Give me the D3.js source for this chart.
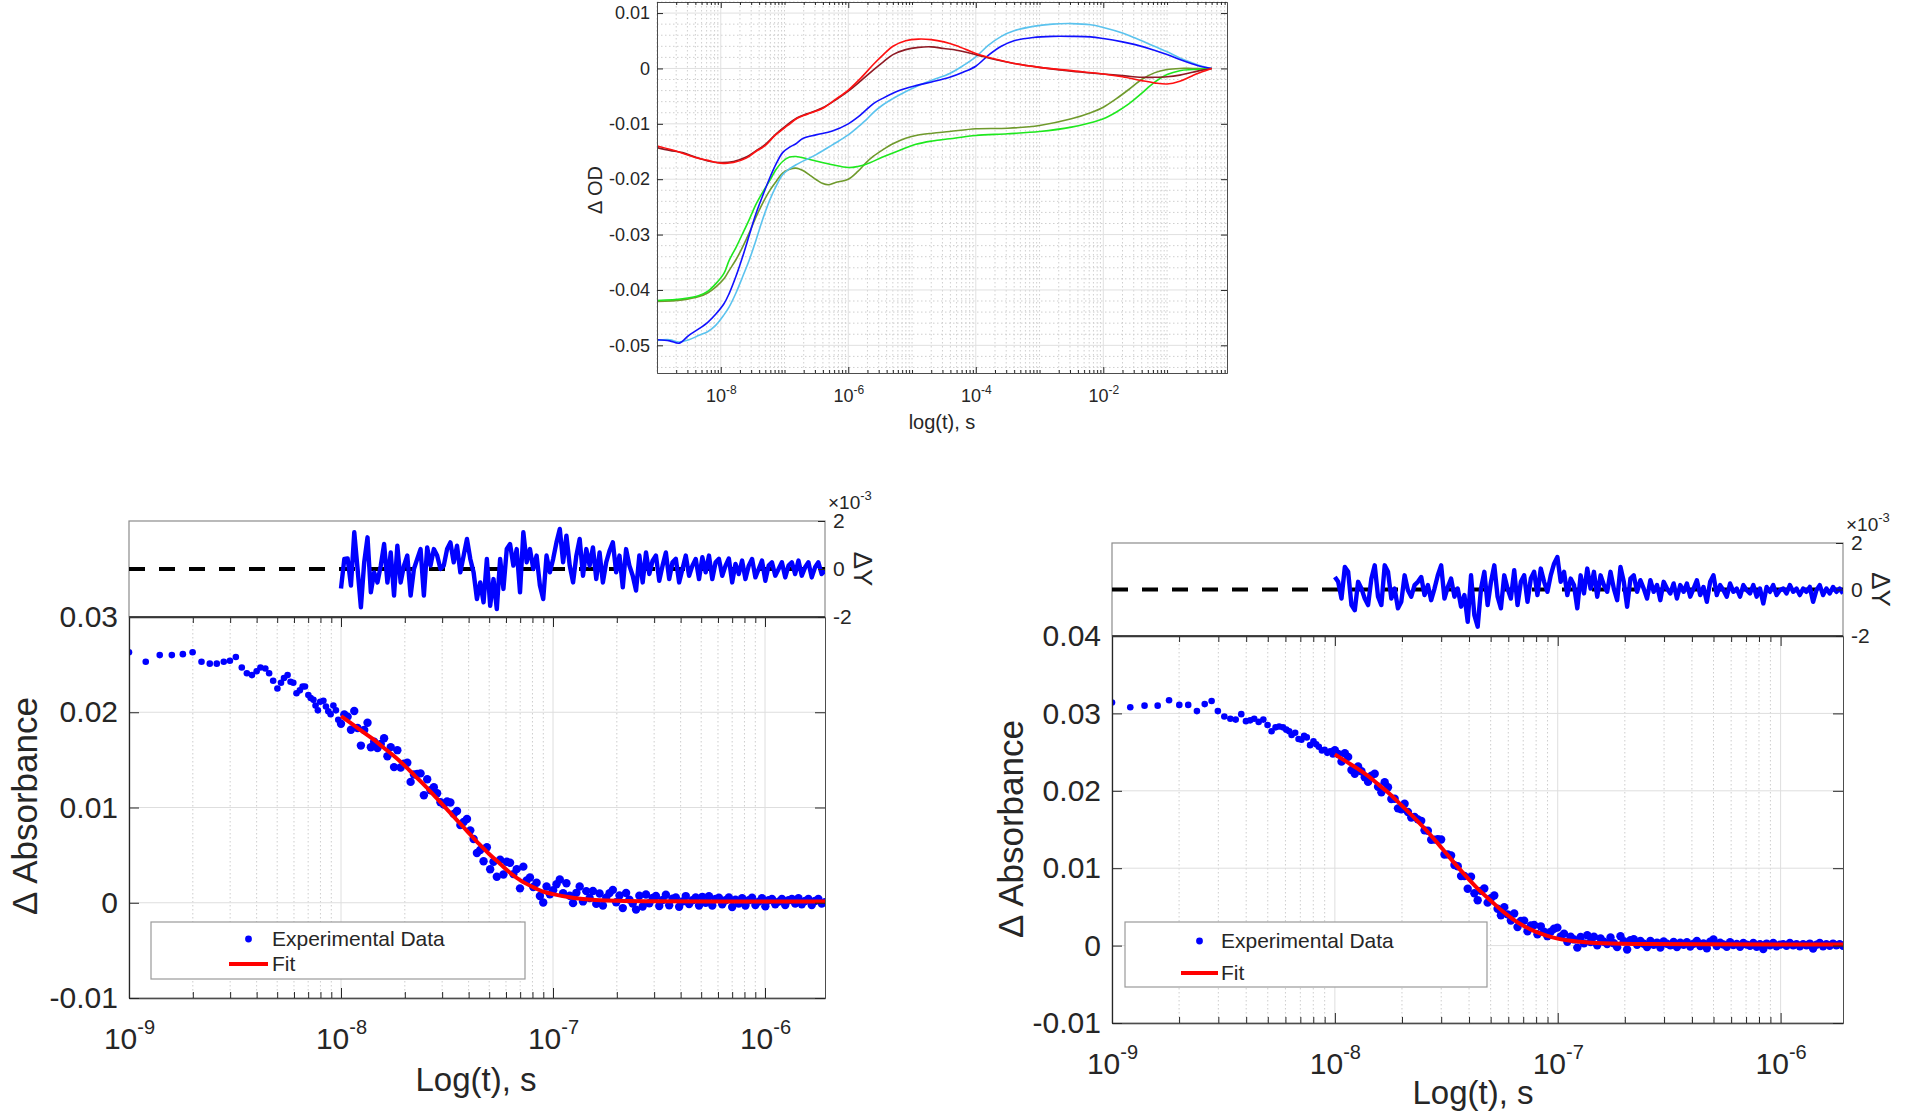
<!DOCTYPE html>
<html><head><meta charset="utf-8">
<script src="https://cdn.jsdelivr.net/npm/d3@7"></script>
<style>
body{margin:0;background:#fff}
svg{display:block}
text{font-family:"Liberation Sans",Arial,Helvetica,sans-serif}
</style>
</head><body>
<svg id="chart" width="1909" height="1113"></svg>
<script>
// ================= DATA =================
// Top panel: [log10(t), ΔOD]
const topRed = [[-9.0,-0.0140],[-8.8,-0.0146],[-8.6,-0.0153],[-8.4,-0.0161],[-8.2,-0.0166],[-8.0,-0.0171],[-7.8,-0.0170],[-7.6,-0.0162],[-7.45,-0.0150],[-7.3,-0.0139],[-7.14,-0.0120],[-6.95,-0.0103],[-6.8,-0.0090],[-6.65,-0.0083],[-6.4,-0.0072],[-6.2,-0.0056],[-6.0,-0.0039],[-5.8,-0.0017],[-5.6,0.0008],[-5.45,0.0025],[-5.3,0.0040],[-5.1,0.0050],[-4.9,0.0053],[-4.7,0.0052],[-4.5,0.0048],[-4.3,0.0041],[-4.0,0.0027],[-3.7,0.0017],[-3.4,0.0009],[-3.0,0.0002],[-2.5,-0.0004],[-2.0,-0.0010],[-1.7,-0.0015],[-1.4,-0.0022],[-1.2,-0.0026],[-1.0,-0.0028],[-0.8,-0.0023],[-0.6,-0.0013],[-0.45,-0.0006],[-0.3,0.0]];
const topDarkRed = [[-9.0,-0.0143],[-8.8,-0.0148],[-8.6,-0.0152],[-8.4,-0.0160],[-8.2,-0.0167],[-8.0,-0.0170],[-7.8,-0.0168],[-7.6,-0.0160],[-7.45,-0.0149],[-7.3,-0.0137],[-7.14,-0.0119],[-6.95,-0.0101],[-6.8,-0.0089],[-6.65,-0.0082],[-6.4,-0.0071],[-6.2,-0.0057],[-6.0,-0.0041],[-5.8,-0.0022],[-5.6,-0.0002],[-5.45,0.0012],[-5.3,0.0025],[-5.1,0.0034],[-4.9,0.0038],[-4.7,0.0039],[-4.5,0.0036],[-4.3,0.0033],[-4.0,0.0025],[-3.7,0.0016],[-3.4,0.0009],[-3.0,0.0002],[-2.5,-0.0005],[-2.0,-0.0010],[-1.7,-0.0013],[-1.4,-0.0016],[-1.2,-0.0016],[-1.0,-0.0015],[-0.8,-0.0012],[-0.6,-0.0007],[-0.45,-0.0003],[-0.3,0.0]];
const topBlue = [[-9.0,-0.0490],[-8.8,-0.0492],[-8.65,-0.0496],[-8.5,-0.0482],[-8.34,-0.0470],[-8.2,-0.0458],[-8.08,-0.0444],[-7.95,-0.0425],[-7.87,-0.0407],[-7.76,-0.0375],[-7.66,-0.0341],[-7.55,-0.0300],[-7.45,-0.0263],[-7.35,-0.0232],[-7.24,-0.0200],[-7.13,-0.0172],[-7.03,-0.0152],[-6.92,-0.0142],[-6.82,-0.0136],[-6.72,-0.0127],[-6.51,-0.0120],[-6.25,-0.0113],[-6.0,-0.0100],[-5.85,-0.0088],[-5.72,-0.0075],[-5.6,-0.0063],[-5.46,-0.0054],[-5.2,-0.0040],[-4.94,-0.0031],[-4.68,-0.0024],[-4.41,-0.0016],[-4.2,-0.0007],[-4.0,0.0004],[-3.8,0.0024],[-3.6,0.0040],[-3.4,0.0050],[-3.1,0.0056],[-2.8,0.0058],[-2.5,0.0058],[-2.2,0.0057],[-2.0,0.0054],[-1.7,0.0048],[-1.5,0.0043],[-1.2,0.0033],[-1.0,0.0025],[-0.8,0.0016],[-0.6,0.0008],[-0.45,0.0003],[-0.3,0.0]];
const topLightBlue = [[-9.0,-0.0491],[-8.8,-0.0490],[-8.65,-0.0494],[-8.5,-0.0490],[-8.34,-0.0482],[-8.2,-0.0475],[-8.08,-0.0464],[-7.95,-0.0445],[-7.87,-0.0431],[-7.76,-0.0405],[-7.66,-0.0377],[-7.55,-0.0345],[-7.45,-0.0311],[-7.35,-0.0275],[-7.24,-0.0240],[-7.13,-0.0212],[-7.03,-0.0192],[-6.92,-0.0181],[-6.82,-0.0174],[-6.65,-0.0164],[-6.51,-0.0156],[-6.25,-0.0138],[-6.0,-0.0120],[-5.85,-0.0106],[-5.72,-0.0093],[-5.6,-0.0079],[-5.46,-0.0066],[-5.2,-0.0048],[-4.94,-0.0033],[-4.68,-0.0021],[-4.41,-0.0009],[-4.2,0.0005],[-4.0,0.0021],[-3.8,0.0042],[-3.6,0.0058],[-3.4,0.0068],[-3.1,0.0076],[-2.8,0.0080],[-2.5,0.0081],[-2.2,0.0079],[-2.0,0.0074],[-1.7,0.0064],[-1.5,0.0055],[-1.2,0.0040],[-1.0,0.0030],[-0.8,0.0019],[-0.6,0.0010],[-0.45,0.0004],[-0.3,0.0]];
const topGreen = [[-9.0,-0.0419],[-8.6,-0.0416],[-8.34,-0.0410],[-8.2,-0.0402],[-8.08,-0.0389],[-7.95,-0.0370],[-7.87,-0.0347],[-7.76,-0.0323],[-7.66,-0.0299],[-7.55,-0.0272],[-7.45,-0.0246],[-7.35,-0.0225],[-7.24,-0.0204],[-7.13,-0.0182],[-7.03,-0.0168],[-6.92,-0.0160],[-6.82,-0.0159],[-6.65,-0.0163],[-6.51,-0.0167],[-6.25,-0.0174],[-6.0,-0.0179],[-5.85,-0.0177],[-5.72,-0.0173],[-5.46,-0.0160],[-5.2,-0.0148],[-4.94,-0.0137],[-4.68,-0.0131],[-4.41,-0.0127],[-4.0,-0.0121],[-3.5,-0.0118],[-3.0,-0.0114],[-2.5,-0.0106],[-2.2,-0.0098],[-2.0,-0.0091],[-1.8,-0.0079],[-1.6,-0.0064],[-1.4,-0.0045],[-1.2,-0.0025],[-1.0,-0.0011],[-0.8,-0.0004],[-0.6,-0.0002],[-0.3,0.0]];
const topOlive = [[-9.0,-0.0421],[-8.6,-0.0418],[-8.34,-0.0412],[-8.2,-0.0405],[-8.08,-0.0395],[-7.95,-0.0380],[-7.87,-0.0365],[-7.76,-0.0345],[-7.66,-0.0323],[-7.55,-0.0296],[-7.45,-0.0269],[-7.35,-0.0245],[-7.24,-0.0222],[-7.13,-0.0204],[-7.03,-0.0189],[-6.92,-0.0182],[-6.82,-0.0180],[-6.72,-0.0184],[-6.6,-0.0193],[-6.5,-0.0201],[-6.4,-0.0208],[-6.3,-0.0210],[-6.2,-0.0206],[-6.0,-0.0200],[-5.85,-0.0186],[-5.72,-0.0170],[-5.6,-0.0158],[-5.46,-0.0147],[-5.3,-0.0136],[-5.1,-0.0126],[-4.94,-0.0121],[-4.68,-0.0117],[-4.41,-0.0114],[-4.0,-0.0109],[-3.5,-0.0108],[-3.0,-0.0103],[-2.5,-0.0091],[-2.2,-0.0080],[-2.0,-0.0070],[-1.8,-0.0055],[-1.6,-0.0038],[-1.4,-0.0020],[-1.2,-0.0008],[-1.0,-0.0002],[-0.8,0.0],[-0.6,0.0],[-0.3,0.0]];
const topYTicks = [-0.05,-0.04,-0.03,-0.02,-0.01,0,0.01];
const topXTicks = [1e-8,1e-6,1e-4,1e-2];

// Bottom-left panel
const leftEarly = [[-9.0,0.0263],[-8.921,0.0253],[-8.855,0.0260],[-8.798,0.0260],[-8.746,0.0261],[-8.70,0.0263],[-8.658,0.0253],[-8.619,0.0251],[-8.586,0.0251],[-8.553,0.0253],[-8.524,0.0254],[-8.496,0.0258],[-8.468,0.0247],[-8.444,0.0241],[-8.42,0.0239],[-8.398,0.0243],[-8.38,0.0247],[-8.357,0.0246],[-8.339,0.0241],[-8.32,0.0233],[-8.30,0.0225],[-8.283,0.0231],[-8.269,0.0236],[-8.252,0.0239],[-8.238,0.0232],[-8.225,0.0231],[-8.21,0.0220],[-8.194,0.0223],[-8.181,0.0227],[-8.17,0.0227],[-8.154,0.0218],[-8.143,0.0215],[-8.13,0.0213],[-8.12,0.0207],[-8.109,0.0202],[-8.098,0.0211],[-8.083,0.0212],[-8.071,0.0206],[-8.06,0.0201],[-8.049,0.0198],[-8.036,0.0207],[-8.024,0.0202],[-8.013,0.0192]];
// dense samples, evenly spaced in log10(t) from -8 to -5.717
const leftDense = [0.01879,0.01976,0.01954,0.01816,0.02013,0.01835,0.0165,0.01813,0.0189,0.01633,
0.01691,0.01624,0.01666,0.01728,0.01538,0.01634,0.01424,0.01602,0.0142,0.0146,
0.0147,0.01269,0.01346,0.01352,0.01358,0.01129,0.01296,0.01181,0.01213,0.01149,
0.01055,0.01032,0.01063,0.01053,0.00933,0.00964,0.00815,0.00848,0.00879,0.0076,
0.00669,0.00522,0.00554,0.00435,0.00582,0.00351,0.0043,0.00273,0.00452,0.00297,
0.00431,0.0042,0.00301,0.00353,0.00151,0.00379,0.00233,0.00266,0.00166,0.0021,
0.00071,0.00003,0.00171,0.00088,0.00132,0.00195,0.00244,0.00099,0.00204,0.00073,
-0.00004,0.00104,0.0017,0.00014,0.00122,0.0005,0.00123,-0.00012,0.00097,-0.00029,
0.00054,0.00101,0.00135,0.00006,0.00076,-0.00056,0.00103,0.00033,-0.00009,-0.00072,
0.00074,-0.00039,0.00086,-0.00005,0.00051,0.00071,-0.00034,0.00029,0.00084,-0.00027,
0.00042,0.00056,-0.00042,0.00014,0.0007,-0.00014,0.00027,0.00055,-0.00029,0.00062,
-0.00001,0.00069,-0.00029,0.00041,0.00054,-0.00016,0.00026,0.00056,-0.00044,0.00033,
-0.00009,0.00047,-0.0003,0.00026,0.00054,-0.00023,0.00012,0.00047,-0.00037,0.00026,
0.0004,-0.00016,0.00012,0.0004,-0.00023,0.00026,0.0004,-0.00009,0.00047,-0.00016,
0.00019,0.0004,-0.00023,0.00019,0.0004,-0.00009,0.00005];
// residuals (x10^-3), same time grid as leftDense
const leftResid = [-0.81,0.42,0.44,-0.69,1.53,0,-1.6,0.28,1.32,-0.97,
-0.14,-0.56,0.14,1.04,-0.56,0.69,-1.11,0.97,-0.56,0.14,
0.56,-1.11,0,0.42,0.83,-1.11,0.9,0.14,0.83,0.56,
0,0.14,0.83,1.11,0.28,0.97,-0.14,0.56,1.25,0.42,
-0.14,-1.25,-0.56,-1.39,0.42,-1.53,-0.42,-1.67,0.42,-0.83,
0.83,1.04,0.14,0.83,-0.97,1.53,0.28,0.83,0,0.56,
-0.69,-1.25,0.56,-0.14,0.42,1.11,1.67,0.28,1.39,0.14,
-0.56,0.56,1.25,-0.28,0.83,
0.14,0.9,-0.42,0.69,-0.56,0.28,0.76,1.11,-0.14,0.56,
-0.76,0.83,0.14,-0.28,-0.9,0.56,-0.56,0.69,-0.21,0.35,
0.56,-0.49,0.14,0.69,-0.42,0.28,0.42,-0.56,0,0.56,
-0.28,0.14,0.42,-0.42,0.49,-0.14,0.56,-0.42,0.28,0.42,
-0.28,0.14,0.44,-0.56,0.21,-0.21,0.35,-0.42,0.14,0.42,
-0.35,0,0.35,-0.49,0.14,0.28,-0.28,0,0.28,-0.35,
0.14,0.28,-0.21,0.35,-0.28,0.07,0.28,-0.35,0.07,0.28,
-0.21,-0.07];
const leftFit = [[-8.0,0.0196],[-7.95,0.0188],[-7.9,0.0180],[-7.85,0.0172],[-7.8,0.0163],[-7.75,0.0154],[-7.7,0.0144],[-7.65,0.0133],[-7.6,0.0122],[-7.55,0.0110],[-7.5,0.0098],[-7.45,0.0086],[-7.4,0.0074],[-7.35,0.0062],[-7.3,0.0051],[-7.25,0.0041],[-7.2,0.0031],[-7.15,0.0023],[-7.1,0.0017],[-7.05,0.0012],[-7.0,0.0009],[-6.9,0.0005],[-6.8,0.0003],[-6.7,0.0002],[-6.5,0.00015],[-6.0,0.00012],[-5.717,0.00012]];
const leftYTicks = [-0.01,0,0.01,0.02,0.03];

// Bottom-right panel
const rightEarly = [[-9.0,0.0314],[-8.918,0.0308],[-8.854,0.0310],[-8.795,0.0310],[-8.744,0.0317],[-8.698,0.0311],[-8.658,0.0311],[-8.619,0.0303],[-8.584,0.0312],[-8.553,0.0316],[-8.525,0.0303],[-8.496,0.0296],[-8.469,0.0293],[-8.445,0.0292],[-8.42,0.0299],[-8.399,0.0290],[-8.38,0.0291],[-8.362,0.0293],[-8.342,0.0289],[-8.321,0.0292],[-8.302,0.0285],[-8.284,0.0277],[-8.266,0.0282],[-8.25,0.0283],[-8.233,0.0282],[-8.218,0.0279],[-8.205,0.0277],[-8.194,0.0272],[-8.178,0.0275],[-8.163,0.0267],[-8.15,0.0266],[-8.138,0.0271],[-8.126,0.0269],[-8.111,0.0259],[-8.096,0.0264],[-8.084,0.0260],[-8.072,0.0257],[-8.058,0.0252],[-8.046,0.0253],[-8.034,0.0249],[-8.021,0.0251],[-8.009,0.0247]];
// dense samples, evenly spaced in log10(t) from -8 to -5.72
const rightDense = [0.02524,0.02476,0.02377,0.02486,0.02438,0.02268,0.02221,0.02314,0.02252,0.02176,
0.02115,0.02196,0.0222,0.02052,0.0198,0.02112,0.02047,0.01893,0.01897,0.01773,
0.01762,0.01833,0.01726,0.01654,0.01661,0.01631,0.01612,0.01489,0.01483,0.01368,
0.01369,0.01376,0.0137,0.01177,0.01178,0.01164,0.0104,0.01026,0.00898,0.00899,
0.00734,0.0089,0.00677,0.00585,0.00707,0.00737,0.00555,0.00613,0.00648,0.00477,
0.00391,0.00497,0.00404,0.00325,0.00415,0.00241,0.00319,0.00323,0.00185,0.00261,
0.00266,0.00147,0.00249,0.00178,0.00122,0.0018,0.00217,0.00232,0.00118,0.00155,
0.00049,0.00114,0.0008,-0.00026,0.00111,0.00029,0.00134,0.00045,
0.00114,0.00004,0.00093,0.00049,0.00019,0.00104,0.00031,-0.0002,0.00122,0.00057,
-0.00051,0.00069,0.00083,0.00011,0.00061,0.00024,-0.00019,0.0006,0.0001,0.00039,
-0.00026,0.00053,0.00024,0.00003,0.00046,-0.0002,0.00038,0.00009,0.00045,-0.00012,
0.00023,0.00059,-0.00006,0.00029,-0.00035,0.00051,0.00079,-0.00007,0.00036,0.00014,
-0.00014,0.00043,0.00006,0.0002,-0.00015,0.00035,0.00013,-0.00001,0.00035,-0.00016,
0.00019,-0.00045,0.00026,0.00005,0.00034,-0.00009,0.00012,0.00019,-0.00002,0.00034,
0.00005,0.00019,-0.00009,0.00019,0.00005,0.00026,-0.00038,0.00012,0.00034,-0.00009,
0.00019,-0.00002,0.00026,0.00005,0.00019,-0.00002];
const rightResid = [0.54,0.33,-0.39,0.97,0.76,-0.67,-0.89,0.33,0.04,-0.39,
-0.67,0.47,1.04,-0.31,-0.67,1.04,0.76,-0.39,0.04,-0.81,
-0.53,0.61,-0.03,-0.31,0.19,0.33,0.54,-0.24,0.19,-0.46,
0.04,0.61,1.04,-0.39,0.11,0.47,-0.31,0.04,-0.74,-0.24,
-1.39,0.61,-1.1,-1.6,0.04,0.76,-0.67,0.33,1.04,-0.31,
-0.81,0.61,0.04,-0.39,0.83,-0.67,0.33,0.61,-0.53,0.47,
0.76,-0.24,0.9,0.33,-0.1,0.61,1.11,1.4,0.33,0.76,
-0.24,0.47,0.19,-0.81,0.61,-0.17,0.9,0.04,
0.76,-0.31,0.61,0.19,-0.1,0.76,0.04,-0.46,0.97,0.33,
-0.74,0.47,0.61,-0.1,0.4,0.04,-0.39,0.4,-0.1,0.19,
-0.46,0.33,0.04,-0.17,0.26,-0.39,0.19,-0.1,0.26,-0.31,
0.04,0.4,-0.24,0.11,-0.53,0.33,0.61,-0.24,0.19,-0.03,
-0.31,0.26,-0.1,0.04,-0.31,0.19,-0.03,-0.17,0.19,-0.31,
0.04,-0.6,0.11,-0.1,0.19,-0.24,-0.03,0.04,-0.17,0.19,
-0.1,0.04,-0.24,0.04,-0.1,0.11,-0.53,-0.03,0.19,-0.24,
0.04,-0.17,0.11,-0.1,0.04,-0.17];
const rightFit = [[-8.0,0.0247],[-7.95,0.0238],[-7.9,0.0229],[-7.85,0.0219],[-7.8,0.0207],[-7.75,0.0195],[-7.7,0.0181],[-7.65,0.0167],[-7.6,0.0152],[-7.55,0.0136],[-7.5,0.0119],[-7.45,0.0102],[-7.4,0.0086],[-7.35,0.0071],[-7.3,0.0058],[-7.25,0.0045],[-7.2,0.0034],[-7.15,0.0025],[-7.1,0.0018],[-7.05,0.0013],[-7.0,0.0009],[-6.9,0.0005],[-6.8,0.0003],[-6.6,0.0002],[-6.0,0.00015],[-5.72,0.00015]];
const rightYTicks = [-0.01,0,0.01,0.02,0.03,0.04];

const bottomXTicks = [1e-9,1e-8,1e-7,1e-6];
const residTicks = [-2,0,2];
const legendLabels = ['Experimental Data','Fit'];

// ================= DRAWING =================
const svg = d3.select('#chart');
const INK = '#262626';
const FRAME = '#4d4d4d';

function fmtNum(d){ return d === 0 ? '0' : d.toFixed(2); }
function supLabels(g, supSize, shift){
  g.selectAll('.tick text').each(function(d){
    const t = d3.select(this);
    const e = Math.round(Math.log10(d));
    t.text(null);
    t.append('tspan').text('10');
    t.append('tspan').attr('font-size', supSize).attr('dy', -shift).text(String(e));
  });
}
function logGrid(lo, hi){
  const out = [];
  for (let n = Math.floor(Math.log10(lo)); n <= Math.ceil(Math.log10(hi)); n++){
    for (let k = 1; k <= 9; k++){
      const v = k * Math.pow(10, n);
      if (v >= lo * 0.9999 && v <= hi * 1.0001) out.push({v, k, n});
    }
  }
  return out;
}
function styleAxis(g, size){
  g.attr('font-family','"Liberation Sans",Arial,Helvetica,sans-serif').attr('font-size', size).attr('color', INK);
  g.select('.domain').attr('stroke', FRAME);
}

// ---------- TOP PANEL ----------
(function(){
  const L = 657, R = 1227, T = 2, B = 373;
  const x = d3.scaleLog().domain([1e-9, Math.pow(10, -0.06)]).range([L, R]);
  const y = d3.scaleLinear().domain([-0.055, 0.012]).range([B, T]);
  const g = svg.append('g');
  const grid = logGrid(1e-9, x.domain()[1]);
  const major = grid.filter(d => d.k === 1 && d.n % 2 === 0);
  const minor = grid.filter(d => !(d.k === 1 && d.n % 2 === 0));
  g.append('g').selectAll('line').data(minor).join('line')
    .attr('x1', d => x(d.v)).attr('x2', d => x(d.v)).attr('y1', T).attr('y2', B)
    .attr('stroke', '#cfcfcf').attr('stroke-dasharray', '1.5,2.5');
  const yMinor = d3.range(-27, 7).filter(i => i % 5 !== 0).map(i => i * 0.002);
  g.append('g').selectAll('line').data(yMinor).join('line')
    .attr('x1', L).attr('x2', R).attr('y1', d => y(d)).attr('y2', d => y(d))
    .attr('stroke', '#cfcfcf').attr('stroke-dasharray', '1.5,2.5');
  g.append('g').selectAll('line').data(major).join('line')
    .attr('x1', d => x(d.v)).attr('x2', d => x(d.v)).attr('y1', T).attr('y2', B)
    .attr('stroke', '#e0e0e0');
  g.append('g').selectAll('line').data(topYTicks).join('line')
    .attr('x1', L).attr('x2', R).attr('y1', d => y(d)).attr('y2', d => y(d))
    .attr('stroke', '#e0e0e0');

  svg.append('clipPath').attr('id', 'clipTop').append('rect').attr('x', L).attr('y', T).attr('width', R - L).attr('height', B - T);
  const line = d3.line().x(d => x(Math.pow(10, d[0]))).y(d => y(d[1])).curve(d3.curveCatmullRom.alpha(0.5));
  const series = [
    [topOlive, '#6f9a2c'], [topGreen, '#1ee81e'], [topLightBlue, '#5bc3ee'],
    [topBlue, '#1010ff'], [topDarkRed, '#8e1a24'], [topRed, '#ff1010']
  ];
  const sg = g.append('g').attr('clip-path', 'url(#clipTop)');
  series.forEach(([data, col]) => {
    sg.append('path').datum(data).attr('d', line).attr('fill', 'none').attr('stroke', col).attr('stroke-width', 1.6);
  });

  const ax = g.append('g').attr('transform', `translate(0,${B})`)
    .call(d3.axisBottom(x).tickValues(topXTicks).tickSizeInner(-6).tickSizeOuter(0).tickPadding(16));
  styleAxis(ax, 18); supLabels(ax, 12, 8);
  const axm = g.append('g').attr('transform', `translate(0,${B})`)
    .call(d3.axisBottom(x).tickValues(minor.map(d => d.v)).tickSizeInner(-3).tickSizeOuter(0).tickFormat(''));
  styleAxis(axm, 10);
  const axt = g.append('g').attr('transform', `translate(0,${T})`)
    .call(d3.axisTop(x).tickValues(topXTicks).tickSizeInner(-6).tickSizeOuter(0).tickFormat(''));
  styleAxis(axt, 10);
  const axtm = g.append('g').attr('transform', `translate(0,${T})`)
    .call(d3.axisTop(x).tickValues(minor.map(d => d.v)).tickSizeInner(-3).tickSizeOuter(0).tickFormat(''));
  styleAxis(axtm, 10);
  const ay = g.append('g').attr('transform', `translate(${L},0)`)
    .call(d3.axisLeft(y).tickValues(topYTicks).tickSizeInner(-6).tickSizeOuter(0).tickPadding(7).tickFormat(fmtNum));
  styleAxis(ay, 18);
  const ayr = g.append('g').attr('transform', `translate(${R},0)`)
    .call(d3.axisRight(y).tickValues(topYTicks).tickSizeInner(-6).tickSizeOuter(0).tickFormat(''));
  styleAxis(ayr, 10);

  g.append('text').attr('x', (L + R) / 2 - 0).attr('y', 429).attr('text-anchor', 'middle')
    .attr('font-size', 20).attr('fill', INK).text('log(t), s');
  g.append('text').attr('transform', `translate(602,${190}) rotate(-90)`).attr('text-anchor', 'middle')
    .attr('font-size', 20).attr('fill', INK).text('Δ OD');
})();

// ---------- BOTTOM PANELS ----------
function drawFitPanel(cfg){
  const {x0, x1, ry0, ry1, my1, yDom, yTicks, xMaxExp, early, dense, resid, fit, id} = cfg;
  const x = d3.scaleLog().domain([1e-9, Math.pow(10, xMaxExp)]).range([x0, x1]);
  const y = d3.scaleLinear().domain(yDom).range([my1, ry1]);
  const ry = d3.scaleLinear().domain([-2, 2]).range([ry1, ry0]);
  const g = svg.append('g');
  const grid = logGrid(1e-9, x.domain()[1]);
  const major = grid.filter(d => d.k === 1);
  const minor = grid.filter(d => d.k !== 1);

  // grid
  g.append('g').selectAll('line').data(minor).join('line')
    .attr('x1', d => x(d.v)).attr('x2', d => x(d.v)).attr('y1', ry1).attr('y2', my1)
    .attr('stroke', '#cdcdcd').attr('stroke-dasharray', '1.5,2.5');
  g.append('g').selectAll('line').data(major).join('line')
    .attr('x1', d => x(d.v)).attr('x2', d => x(d.v)).attr('y1', ry1).attr('y2', my1)
    .attr('stroke', '#dedede');
  g.append('g').selectAll('line').data(yTicks).join('line')
    .attr('x1', x0).attr('x2', x1).attr('y1', d => y(d)).attr('y2', d => y(d))
    .attr('stroke', '#dedede');

  // data
  svg.append('clipPath').attr('id', 'clipM' + id).append('rect').attr('x', x0).attr('y', ry1).attr('width', x1 - x0).attr('height', my1 - ry1);
  const dg = g.append('g').attr('clip-path', `url(#clipM${id})`);
  const gridT = d3.range(dense.length).map(i => Math.pow(10, -8 + (xMaxExp + 8) * i / (dense.length - 1)));
  dg.append('g').selectAll('circle').data(early).join('circle')
    .attr('cx', d => x(Math.pow(10, d[0]))).attr('cy', d => y(d[1])).attr('r', 3.3).attr('fill', '#0000ff');
  dg.append('g').selectAll('circle').data(dense).join('circle')
    .attr('cx', (d, i) => x(gridT[i])).attr('cy', d => y(d)).attr('r', 4.2).attr('fill', '#0000ff');
  const fitLine = d3.line().x(d => x(Math.pow(10, d[0]))).y(d => y(d[1])).curve(d3.curveMonotoneX);
  dg.append('path').datum(fit).attr('d', fitLine).attr('fill', 'none').attr('stroke', '#ff0000').attr('stroke-width', 4);

  // main axes
  const ab = g.append('g').attr('transform', `translate(0,${my1})`)
    .call(d3.axisBottom(x).tickValues(bottomXTicks).tickSizeInner(-10).tickSizeOuter(0).tickPadding(30));
  styleAxis(ab, 30); supLabels(ab, 20, 15);
  ab.select('.domain').attr('stroke', INK).attr('stroke-width', 1.3);
  const abm = g.append('g').attr('transform', `translate(0,${my1})`)
    .call(d3.axisBottom(x).tickValues(minor.map(d => d.v)).tickSizeInner(-6).tickSizeOuter(0).tickFormat(''));
  styleAxis(abm, 10);
  const at = g.append('g').attr('transform', `translate(0,${ry1})`)
    .call(d3.axisTop(x).tickValues(bottomXTicks).tickSizeInner(-10).tickSizeOuter(0).tickFormat(''));
  styleAxis(at, 10);
  at.select('.domain').attr('stroke', INK).attr('stroke-width', 1.3);
  const atm = g.append('g').attr('transform', `translate(0,${ry1})`)
    .call(d3.axisTop(x).tickValues(minor.map(d => d.v)).tickSizeInner(-6).tickSizeOuter(0).tickFormat(''));
  styleAxis(atm, 10);
  const al = g.append('g').attr('transform', `translate(${x0},0)`)
    .call(d3.axisLeft(y).tickValues(yTicks).tickSizeInner(-10).tickSizeOuter(0).tickPadding(11).tickFormat(fmtNum));
  styleAxis(al, 30);
  al.select('.domain').attr('stroke', INK).attr('stroke-width', 1.3);
  const ar = g.append('g').attr('transform', `translate(${x1},0)`)
    .call(d3.axisRight(y).tickValues(yTicks).tickSizeInner(-10).tickSizeOuter(0).tickFormat(''));
  styleAxis(ar, 10);

  // residual panel
  g.append('rect').attr('x', x0).attr('y', ry0).attr('width', x1 - x0).attr('height', ry1 - ry0)
    .attr('fill', 'none').attr('stroke', '#8c8c8c').attr('stroke-width', 1.2);
  g.append('line').attr('x1', x0).attr('x2', x1).attr('y1', ry1).attr('y2', ry1).attr('stroke', INK).attr('stroke-width', 1.5);
  g.append('line').attr('x1', x(1e-9)).attr('x2', x1).attr('y1', ry(0)).attr('y2', ry(0))
    .attr('stroke', '#000').attr('stroke-width', 4).attr('stroke-dasharray', '16,14');
  svg.append('clipPath').attr('id', 'clipR' + id).append('rect').attr('x', x0).attr('y', ry0).attr('width', x1 - x0).attr('height', ry1 - ry0);
  const rLine = d3.line().x((d, i) => x(gridT[i])).y(d => ry(d));
  g.append('path').datum(resid).attr('clip-path', `url(#clipR${id})`).attr('d', rLine)
    .attr('fill', 'none').attr('stroke', '#0000ff').attr('stroke-width', 4.4).attr('stroke-linejoin', 'round');
  const rr = g.append('g').attr('transform', `translate(${x1},0)`)
    .call(d3.axisRight(ry).tickValues(residTicks).tickSizeInner(-7).tickSizeOuter(0).tickPadding(8).tickFormat(d => String(d)));
  styleAxis(rr, 21);
  rr.select('.domain').remove();
  const mult = g.append('text').attr('x', x1 + 3).attr('y', ry0 - 12).attr('font-size', 19).attr('fill', INK);
  mult.append('tspan').text('×10');
  mult.append('tspan').attr('font-size', 13).attr('dy', -9).text('-3');
  g.append('text').attr('transform', `translate(${x1 + 29},${ry(0)}) rotate(90)`).attr('text-anchor', 'middle')
    .attr('font-size', 26).attr('fill', INK).text('ΔY');

  // labels
  g.append('text').attr('x', cfg.xlab[0]).attr('y', cfg.xlab[1]).attr('text-anchor', 'middle')
    .attr('font-size', 33).attr('fill', INK).text('Log(t), s');
  g.append('text').attr('transform', `translate(${cfg.ylab[0]},${cfg.ylab[1]}) rotate(-90)`).attr('text-anchor', 'middle')
    .attr('font-size', 35).attr('fill', INK).text('Δ Absorbance');

  // legend
  const lg = cfg.legend;
  const leg = g.append('g');
  leg.append('rect').attr('x', lg.x).attr('y', lg.y).attr('width', lg.w).attr('height', lg.h)
    .attr('fill', '#fff').attr('stroke', '#9a9a9a').attr('stroke-width', 1.2);
  leg.append('circle').attr('cx', (lg.lx0 + lg.lx1) / 2).attr('cy', lg.r1).attr('r', 3.4).attr('fill', '#0000ff');
  leg.append('line').attr('x1', lg.lx0).attr('x2', lg.lx1).attr('y1', lg.r2).attr('y2', lg.r2).attr('stroke', '#ff0000').attr('stroke-width', 4);
  leg.append('text').attr('x', lg.tx).attr('y', lg.r1).attr('dy', '0.35em').attr('font-size', 21).attr('fill', INK).text(legendLabels[0]);
  leg.append('text').attr('x', lg.tx).attr('y', lg.r2).attr('dy', '0.35em').attr('font-size', 21).attr('fill', INK).text(legendLabels[1]);
}

drawFitPanel({id: 'L', x0: 129, x1: 825, ry0: 521, ry1: 617, my1: 998, yDom: [-0.01, 0.03], yTicks: leftYTicks,
  xMaxExp: -5.717, early: leftEarly, dense: leftDense, resid: leftResid, fit: leftFit,
  xlab: [476, 1091], ylab: [37, 806],
  legend: {x: 151, y: 922, w: 374, h: 57, lx0: 229, lx1: 268, tx: 272, r1: 939, r2: 964}});
drawFitPanel({id: 'R', x0: 1112, x1: 1843, ry0: 543, ry1: 636, my1: 1023, yDom: [-0.01, 0.04], yTicks: rightYTicks,
  xMaxExp: -5.72, early: rightEarly, dense: rightDense, resid: rightResid, fit: rightFit,
  xlab: [1473, 1104], ylab: [1023, 829],
  legend: {x: 1125, y: 922, w: 362, h: 65, lx0: 1181, lx1: 1218, tx: 1221, r1: 941, r2: 973}});
</script>
</body></html>
